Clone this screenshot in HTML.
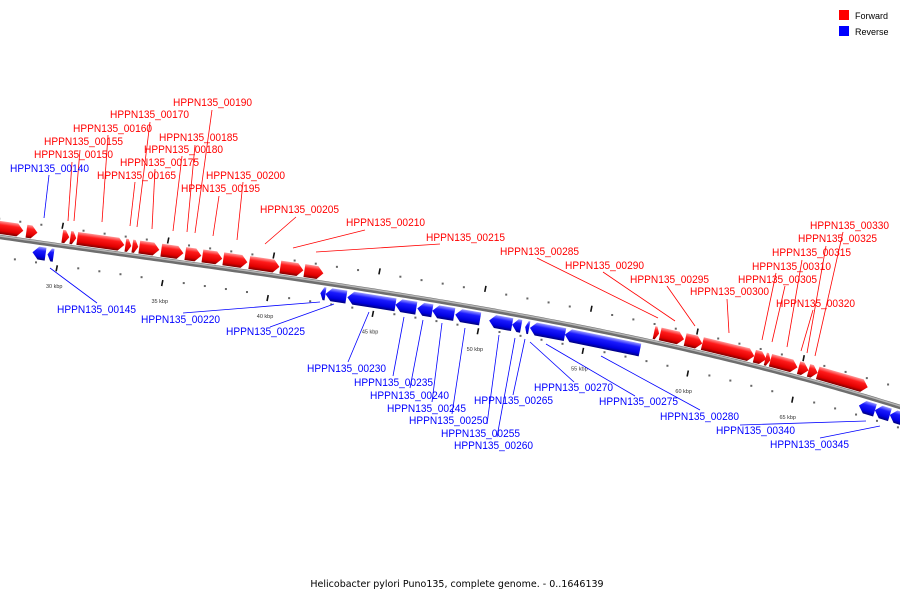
<!DOCTYPE html>
<html><head><meta charset="utf-8">
<style>
html,body{margin:0;padding:0;background:#fff;}
svg{display:block;font-family:"Liberation Sans","DejaVu Sans",sans-serif;}
</style></head>
<body>
<svg id="chart" width="900" height="600" viewBox="0 0 900 600" xmlns="http://www.w3.org/2000/svg">
<defs>
<linearGradient id="gRed" x1="0" y1="0" x2="0" y2="1">
<stop offset="0" stop-color="#ff9a9a"/><stop offset="0.3" stop-color="#ff1a1a"/><stop offset="0.75" stop-color="#e00000"/><stop offset="1" stop-color="#7a0000"/>
</linearGradient>
<linearGradient id="gBlue" x1="0" y1="0" x2="0" y2="1">
<stop offset="0" stop-color="#9a9aff"/><stop offset="0.3" stop-color="#1a1aff"/><stop offset="0.75" stop-color="#0000e0"/><stop offset="1" stop-color="#00007a"/>
</linearGradient>
</defs>
<g id="backbone-layer"></g>
<g id="tick-layer"></g>
<g id="line-layer"></g>
<g id="gene-layer"></g>
<g id="label-layer"></g>
<g>
<rect x="839" y="10" width="10" height="10" fill="#ff0000"/>
<text x="855" y="19" font-size="9" fill="#000">Forward</text>
<rect x="839" y="26" width="10" height="10" fill="#0000ff"/>
<text x="855" y="35" font-size="9" fill="#000">Reverse</text>
</g>
<text x="457" y="587" font-size="9.5" text-anchor="middle" fill="#000" font-family="DejaVu Sans, sans-serif">Helicobacter pylori Puno135, complete genome. - 0..1646139</text>
</svg>
<script>
// ---- data (kbp) ----
const fwdStart = [26.9, 28.35, 30.05, 30.43, 30.76, 33.04, 33.37, 33.70, 34.74, 35.88, 36.69, 37.68, 38.91, 40.38, 41.52, 58.06, 58.35, 59.53, 60.34, 62.80, 63.32, 63.56, 64.89, 65.36, 65.79];
const fwdEnd   = [28.20, 28.87, 30.38, 30.71, 32.99, 33.32, 33.65, 34.65, 35.79, 36.64, 37.63, 38.82, 40.34, 41.47, 42.42, 58.30, 59.48, 60.34, 62.80, 63.37, 63.56, 64.84, 65.36, 65.79, 68.16];
const revStart = [28.77, 29.48, 42.42, 42.66, 43.70, 45.98, 47.02, 47.73, 48.82, 50.43, 51.52, 52.14, 52.37, 54.03, 68.01, 68.77, 69.48];
const revEnd   = [29.39, 29.77, 42.66, 43.65, 45.98, 46.97, 47.73, 48.77, 50.00, 51.52, 51.95, 52.33, 54.03, 57.59, 68.77, 69.48, 70.60];
const tickKbp = [30, 35, 40, 45, 50, 55, 60, 65];
const tickLabels = ["30 kbp","35 kbp","40 kbp","45 kbp","50 kbp","55 kbp","60 kbp","65 kbp"];
const labelNames = ["HPPN135_00140","HPPN135_00150","HPPN135_00155","HPPN135_00160","HPPN135_00165","HPPN135_00170","HPPN135_00175","HPPN135_00180","HPPN135_00185","HPPN135_00190","HPPN135_00195","HPPN135_00200","HPPN135_00205","HPPN135_00210","HPPN135_00215","HPPN135_00285","HPPN135_00290","HPPN135_00295","HPPN135_00300","HPPN135_00305","HPPN135_00310","HPPN135_00315","HPPN135_00320","HPPN135_00325","HPPN135_00330",
"HPPN135_00145","HPPN135_00220","HPPN135_00225","HPPN135_00230","HPPN135_00235","HPPN135_00240","HPPN135_00245","HPPN135_00250","HPPN135_00255","HPPN135_00260","HPPN135_00265","HPPN135_00270","HPPN135_00275","HPPN135_00280","HPPN135_00340","HPPN135_00345"];
const labelColor = ["b","r","r","r","r","r","r","r","r","r","r","r","r","r","r","r","r","r","r","r","r","r","r","r","r","b","b","b","b","b","b","b","b","b","b","b","b","b","b","b","b"];
const labelX = [10,34,44,73,97,110,120,144,159,173,181,206,260,346,426,500,565,630,690,738,752,772,776,798,810,57,141,226,307,354,370,387,409,441,454,474,534,599,660,716,770];
const labelY = [172,158,145,132,179,118,166,153,141,106,192,179,213,226,241,255,269,283,295,283,270,256,307,242,229,313,323,335,372,386,399,412,424,437,449,404,391,405,420,434,448];
const lineFrom = [[49,175],[72,162],[80,150],[108,135],[135,182],[150,122],[155,169],[182,156],[195,145],[212,110],[219,196],[243,182],[296,217],[365,230],[440,244],[537,258],[603,272],[667,286],[727,299],[785,286],[776,273],[802,260],[813,310],[826,246],[843,232],
[97,303],[183,313],[270,327],[348,362],[393,376],[410,388],[432,402],[452,414],[487,424],[497,437],[513,395],[574,382],[635,396],[700,410],[740,425],[820,438]];
const lineTo = [[44,218],[68,221],[74,221],[102,222],[130,226],[137,227],[152,229],[173,231],[187,232],[195,233],[213,236],[237,240],[265,244],[293,248],[316,252],[658,318],[675,321],[695,326],[729,333],[772,342],[762,340],[787,347],[801,351],[807,353],[815,356],
[50,268],[320,302],[334,304],[369,312],[404,317],[423,320],[442,323],[465,328],[499,335],[515,338],[525,339],[530,342],[546,344],[601,356],[866,421],[880,426]];

// ---- axis ----
function xOf(kb){ return (kb-27.16)*21.1; }
function curveY(x){ return 237 + 0.1448*x - 3.97e-5*x*x + 9.856e-8*x*x*x; }
function slope(x){ return 0.1448 - 2*3.97e-5*x + 3*9.856e-8*x*x; }
function pt(kb, off){
  const x=xOf(kb), y=curveY(x), s=slope(x), n=Math.sqrt(1+s*s);
  return [x - s*off/n, y + off/n];
}
const NS="http://www.w3.org/2000/svg";
function mk(tag, attrs, parent){ const e=document.createElementNS(NS,tag); for(const k in attrs) e.setAttribute(k,attrs[k]); parent.appendChild(e); return e; }

const bb=document.getElementById('backbone-layer');
let d="";
for(let x=-5;x<=905;x+=5){ d+=(x===-5?"M":"L")+x+","+curveY(x).toFixed(2)+" "; }
const bbPath=mk('path',{d:d,fill:'none',stroke:'#6e6e6e','stroke-width':4.5},bb);


const bbHi=mk('path',{d:d,fill:'none',stroke:'#b4b4b4','stroke-width':1.5,transform:'translate(0,-1)'},bb);



const tl=document.getElementById('tick-layer');
for(let kb=27;kb<=71;kb++){
  const major = tickKbp.includes(kb);
  [-18,20].forEach(off=>{
    const p=pt(kb, major ? (off<0?-20:23) : off);
    if(p[0]<-2||p[0]>902) return;
    let t;
    if(major){
      t=mk('line',{x1:p[0]+0.6,y1:p[1]-3,x2:p[0]-0.6,y2:p[1]+3,stroke:'#111','stroke-width':1.6},tl);
      
    } else {
      t=mk('rect',{x:p[0]-1,y:p[1]-1,width:2,height:2,fill:'#666'},tl);
      
    }
    
  });
}
tickKbp.forEach((kb,i)=>{
  const p=pt(kb,41);
  const t=mk('text',{x:p[0],y:p[1]+2,'font-size':5.5,'text-anchor':'middle',fill:'#333'},tl);
  t.textContent=tickLabels[i];
  
  
});

const gl=document.getElementById('gene-layer');
function gene(k1,k2,fwd){
  const top = fwd ? -16 : 4, h=13, head=6;
  const a=pt(k1,0), b=pt(k2,0);
  const L=Math.hypot(b[0]-a[0],b[1]-a[1]);
  const ang=Math.atan2(b[1]-a[1],b[0]-a[0])*180/Math.PI;
  const hh=Math.min(head,L*0.6);
  let pts;
  if(fwd) pts=[[0,top],[L-hh,top],[L,top+h/2],[L-hh,top+h],[0,top+h]];
  else pts=[[hh,top],[L,top],[L,top+h],[hh,top+h],[0,top+h/2]];
  const g=mk('polygon',{points:pts.map(p=>p[0].toFixed(2)+","+p[1]).join(" "),fill:fwd?'url(#gRed)':'url(#gBlue)',transform:`translate(${a[0].toFixed(2)},${a[1].toFixed(2)}) rotate(${ang.toFixed(3)})`},gl);
  
  
}
fwdStart.forEach((s,i)=>gene(s,fwdEnd[i],true));
revStart.forEach((s,i)=>gene(s,revEnd[i],false));

const ll=document.getElementById('line-layer'), lab=document.getElementById('label-layer');
labelNames.forEach((n,i)=>{
  const col = labelColor[i]==="r" ? "#ff0000" : "#0000ff";
  const ln=mk('line',{x1:lineFrom[i][0],y1:lineFrom[i][1],x2:lineTo[i][0],y2:lineTo[i][1],stroke:col,'stroke-width':0.8},ll);
  
  
  const t=mk('text',{x:labelX[i],y:labelY[i],'font-size':11,fill:col,textLength:79,lengthAdjust:'spacingAndGlyphs'},lab);
  t.textContent=n;
  
  
});
</script>
</body></html>
